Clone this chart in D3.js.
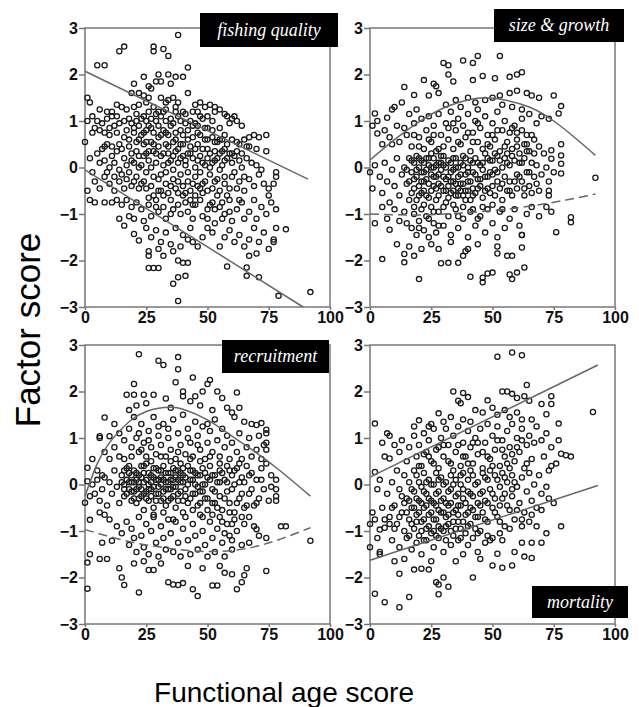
<!DOCTYPE html>
<html>
<head>
<meta charset="utf-8">
<script src="https://cdn.jsdelivr.net/npm/d3@7"></script>
<style>
  body { margin: 0; background: #fff; }
  .tick text { font-family: "Liberation Sans", Arial, sans-serif; font-weight: bold; font-size: 16px; fill: #111; }
</style>
</head>
<body>
<svg id="chart" width="639" height="707"></svg>
<script>
// axis ticks
const xTicks = [0, 25, 50, 75, 100];
const yTicks = [-3, -2, -1, 0, 1, 2, 3];
const panelLabels = ['fishing quality', 'size & growth', 'recruitment', 'mortality'];

// points: [functional age score, factor score]
const fishingQuality = [
  [38,2.85],[16,2.6],[14,2.5],[28,2.6],[28,2.5],[32,2.55],[34,2.4],[5,2.2],[8,2.2],[42,2.15],[24,1.95],[30,2.0],[34,2.0],[37,1.95],[40,1.95],[29,1.85],[31,1.85],[35,1.8],[20,1.8],[26,1.75],[27,1.7],
  [1,1.5],[2,1.4],[19,1.6],[22,1.6],[24,1.55],[26,1.5],[31,1.5],[34,1.45],[36,1.5],[38,1.4],[42,1.6],[45,1.35],[47,1.4],[49,1.3],[51,1.35],[53,1.3],[53,1.2],[55,1.25],[57,1.15],[13,1.35],[15,1.3],[17,1.25],[20,1.3],[28,1.3],[33,1.25],[40,1.2],[44,1.2],[6,1.25],[9,1.2],[11,1.2],
  [58,1.1],[60,1.05],[61,1.1],[62,1.0],[59,0.95],[64,0.9],[52,1.0],[48,1.05],[45,0.95],[50,0.85],[55,0.85],[57,0.7],
  [1,1.0],[3,1.1],[5,1.0],[7,0.95],[9,1.05],[11,1.1],[13,1.1],[4,0.85],[6,0.8],[8,0.75],[3,0.75],[10,0.85],[12,0.9],[14,0.95],[16,1.0],[18,1.05],[19,0.95],[21,1.0],[22,0.9],[24,1.1],[25,1.0],[26,0.9],[27,1.05],[29,1.0],[30,0.9],[31,1.1],[33,1.0],[35,1.05],[36,0.95],[38,1.1],[39,1.0],[41,0.95],[43,1.0],[46,0.9],
  [17,0.8],[20,0.75],[23,0.7],[25,0.8],[28,0.75],[30,0.65],[32,0.8],[34,0.7],[37,0.75],[40,0.7],[42,0.8],[44,0.65],[47,0.7],[49,0.6],[52,0.65],[54,0.55],[56,0.6],[60,0.6],[63,0.5],[65,0.6],[67,0.65],[69,0.7],[71,0.65],[74,0.7],[67,0.45],[70,0.4],[74,0.35],[62,0.35],
  [18,0.6],[21,0.55],[24,0.5],[27,0.55],[33,0.5],[36,0.55],[39,0.5],[43,0.45],[46,0.5],[50,0.4],[53,0.35],[57,0.4],[59,0.3],
  [0,0.55],[2,0.2],[5,0.3],[7,0.4],[9,0.5],[11,0.45],[13,0.35],[15,0.4],[16,0.2],[19,0.3],[20,0.1],[22,0.25],[23,0.05],[25,0.3],[26,0.15],[28,0.35],[29,0.1],[31,0.25],[32,0.05],[34,0.3],[35,0.15],[37,0.35],[38,0.1],[40,0.25],[41,0.05],[42,0.3],[44,0.2],[45,0.0],[47,0.25],[48,0.1],[50,0.2],[51,0.0],[53,0.15],[55,0.3],[56,0.05],[58,0.2],[60,0.1],[61,0.25],[63,0.15],[64,0.0],[66,0.2],[68,0.1],[70,0.05],[72,-0.05],[6,0.1],[8,0.15],[10,0.0],[12,0.1],[14,-0.05],[18,-0.1],[3,-0.1],
  [1,-0.5],[4,-0.3],[6,-0.45],[8,-0.2],[10,-0.35],[12,-0.5],[14,-0.3],[16,-0.45],[17,-0.25],[19,-0.4],[21,-0.2],[22,-0.45],[24,-0.3],[25,-0.1],[27,-0.4],[28,-0.2],[30,-0.5],[31,-0.15],[33,-0.35],[34,-0.55],[36,-0.25],[37,-0.45],[39,-0.15],[40,-0.4],[42,-0.3],[43,-0.5],[45,-0.2],[46,-0.4],[48,-0.55],[49,-0.3],[51,-0.15],[52,-0.45],[54,-0.25],[55,-0.5],[57,-0.35],[58,-0.6],[60,-0.2],[62,-0.45],[63,-0.3],[65,-0.5],[67,-0.25],[69,-0.4],[71,-0.15],[73,-0.35],[75,-0.45],[78,-0.1],[78,-0.2],[77,-0.35],[75,-0.6],
  [2,-0.7],[4,-0.75],[8,-0.75],[11,-0.75],[13,-0.7],[15,-0.8],[17,-0.7],[19,-0.85],[20,-1.1],[21,-0.75],[23,-0.9],[24,-1.15],[26,-0.8],[27,-1.05],[29,-0.7],[30,-0.95],[32,-0.85],[33,-1.1],[35,-0.7],[36,-0.9],[38,-0.8],[39,-1.0],[41,-0.75],[42,-0.95],[44,-1.1],[45,-0.8],[47,-0.7],[48,-1.05],[50,-0.9],[52,-0.75],[53,-1.2],[55,-0.85],[57,-1.0],[59,-0.7],[60,-1.15],[62,-0.9],[64,-0.75],[65,-1.1],[67,-0.95],[69,-0.7],[70,-1.1],[72,-0.85],[74,-1.0],[76,-0.75],[78,-0.9],[14,-1.1],[16,-1.25],[18,-1.05],
  [20,-1.43],[22,-1.57],[25,-1.3],[27,-1.5],[29,-1.35],[31,-1.6],[33,-1.4],[35,-1.65],[37,-1.3],[40,-1.45],[42,-1.55],[43,-1.3],[46,-1.7],[48,-1.5],[50,-1.3],[52,-1.4],[55,-1.7],[57,-1.5],[59,-1.35],[61,-1.6],[63,-1.45],[65,-1.7],[67,-1.55],[69,-1.3],[71,-1.6],[73,-1.4],[75,-1.75],[77,-1.55],[78,-1.3],[82,-1.33],[77,-1.6],[70,-1.85],[67,-1.9],[26,-1.9],[26,-1.8],[30,-1.75],[32,-1.9],[36,-1.8],[39,-1.7],[44,-1.6],
  [26,-2.16],[28,-2.16],[30,-2.16],[38,-2.0],[40,-2.05],[42,-2.05],[36,-2.5],[38,-2.36],[41,-2.33],[58,-2.13],[66,-2.15],[66,-2.33],[71,-2.36],[79,-2.76],[92,-2.68],[38,-2.87]
];
const fishingQualityCore = [
  [18,0.45],[19,0.15],[20,0.85],[20,-0.3],[21,0.35],[21,1.15],[22,0.0],[22,0.6],[23,-0.35],[23,1.05],[24,0.25],[24,0.75],[25,-0.45],[25,0.55],[26,0.35],[26,1.2],[27,0.0],[27,0.85],[28,-0.6],[28,0.5],[29,0.3],[29,1.15],[30,-0.25],[30,0.45],[31,0.7],[31,-0.5],[32,0.3],[32,1.2],[33,-0.1],[33,0.75],[34,0.45],[34,0.1],[35,-0.4],[35,0.9],[36,0.25],[36,-0.05],[37,0.6],[37,1.2],[38,-0.3],[38,0.4],[39,0.8],[39,0.2],[40,-0.6],[40,0.5],[41,0.15],[41,1.15],[42,-0.1],[42,0.6],[43,0.3],[43,-0.7],[44,0.9],[44,-0.35],[45,0.4],[45,-0.6],[46,0.15],[46,0.75],[47,-0.1],[47,1.1],[48,0.4],[48,-0.35],[49,0.85],[49,0.05],[50,-0.5],[50,0.6],[51,0.3],[51,-0.8],[52,0.1],[52,0.8],[53,-0.3],[53,0.55],[54,0.2],[54,-0.6],[55,0.6],[55,-0.05],[56,0.35],[56,-0.75],[57,0.15],[57,-0.2],[58,0.5],[59,-0.45],[60,0.3],[61,-0.1],[62,0.55],[63,-0.7],[64,0.3],[65,-0.2],[66,0.45],[17,0.05],[16,0.65],[15,-0.15],[14,0.5],[13,0.75],[12,-0.2],[11,0.25],[10,0.7],[9,-0.1],[8,0.45],
  [26,-0.65],[29,-0.85],[32,-0.6],[35,-1.0],[38,-0.55],[41,-0.55],[44,-0.8],[47,-0.45],[50,-1.1],[53,-0.9],[56,-1.1],[59,-0.95],[33,1.4],[37,1.3],[25,1.4],[22,1.35],[30,1.2],[46,1.2],[50,1.1]
];

const sizeGrowth = [
  [53,2.4],[44,2.4],[38,2.3],[42,2.25],[30,2.25],[32,2.2],[32,2.0],[46,1.97],[51,1.92],[57,1.95],[60,2.0],[62,2.05],[42,1.88],[22,1.88],[34,1.85],[26,1.8],[27,1.75],[14,1.73],[18,1.56],[57,1.6],[60,1.65],[64,1.6],[66,1.55],[69,1.5],[75,1.55],[78,1.32],[77,1.16],[2,1.16],[1,0.9],[3,1.0],[3,0.73],[7,1.07],[9,1.25],[10,1.3],[13,1.4],[16,1.15],[19,1.25],[24,1.55],[28,1.6],[31,1.35],[35,1.45],[37,1.3],[40,1.5],[43,1.4],[44,1.25],[47,1.45],[50,1.5],[53,1.55],[54,1.35],[58,1.3],[62,1.25],[65,1.15],[70,1.1],[73,1.05],[68,0.95],
  [5,0.5],[6,0.8],[8,0.65],[9,0.5],[11,0.9],[12,0.55],[14,0.85],[15,0.7],[17,0.45],[18,0.95],[20,0.65],[21,1.05],[22,0.4],[23,0.8],[24,1.1],[25,0.55],[26,0.9],[27,0.35],[28,1.15],[29,0.7],[30,0.45],[31,0.95],[32,0.6],[33,1.2],[34,0.4],[35,0.8],[36,1.05],[37,0.5],[38,0.9],[39,0.65],[40,1.15],[41,0.35],[42,0.75],[43,1.0],[44,0.55],[45,0.85],[46,0.4],[47,1.1],[48,0.7],[49,0.45],[50,0.95],[51,0.6],[52,1.2],[53,0.35],[54,0.8],[55,1.0],[56,0.55],[57,0.75],[58,0.4],[59,0.9],[60,0.6],[61,0.3],[62,0.8],[63,0.5],[64,0.7],[65,0.35],[67,0.6],[69,0.45],[71,0.3],[74,0.37],[74,0.19],[78,0.5],[78,0.26],
  [0,-0.1],[1,-0.45],[2,0.05],[4,-0.2],[5,-0.55],[6,0.1],[7,-0.3],[8,-0.75],[9,-0.05],[10,-0.4],[11,0.2],[12,-0.6],[13,-0.15],[14,0.0],[15,-0.35],[16,0.2],[16,-0.7],[17,-0.1],[18,0.1],[18,-0.45],[19,-0.2],[19,0.25],[20,-0.6],[20,0.0],[21,-0.3],[21,0.15],[22,-0.1],[22,-0.5],[23,0.2],[23,-0.25],[24,-0.65],[24,0.05],[25,-0.15],[25,0.3],[26,-0.4],[26,0.0],[27,-0.2],[27,-0.7],[28,0.1],[28,-0.35],[29,-0.05],[29,0.25],[30,-0.5],[30,0.05],[31,-0.25],[31,-0.75],[32,0.15],[32,-0.4],[33,-0.1],[33,-0.55],[34,0.2],[34,-0.3],[35,-0.6],[35,0.0],[36,-0.2],[36,-0.45],[37,0.1],[37,-0.35],[38,-0.6],[38,0.25],[39,-0.15],[39,-0.5],[40,0.0],[40,-0.3],[41,-0.7],[41,0.15],[42,-0.45],[42,-0.1],[43,0.2],[43,-0.55],[44,-0.25],[45,0.05],[45,-0.4],[46,-0.65],[46,0.1],[47,-0.2],[48,-0.45],[48,0.2],[49,-0.1],[50,-0.4],[50,0.15],[51,-0.6],[51,-0.05],[52,0.25],[52,-0.3],[53,-0.45],[54,0.0],[54,-0.7],[55,-0.2],[55,0.2],[56,-0.5],[57,0.05],[57,-0.3],[58,-0.6],[59,0.15],[60,-0.15],[60,-0.45],[61,0.1],[62,-0.3],[63,-0.6],[63,0.2],[64,-0.1],[65,-0.4],[66,0.1],[67,-0.2],[68,0.05],[69,-0.5],[70,-0.15],[72,0.0],[73,-0.3],[75,-0.1],[78,0.08],[78,-0.13],[73,-0.5],[73,-0.6],[92,-0.22],
  [2,-1.2],[5,-0.85],[7,-1.1],[8,-1.34],[10,-0.9],[12,-1.15],[14,-0.95],[15,-1.2],[17,-1.3],[18,-1.0],[19,-1.45],[20,-1.15],[21,-0.9],[22,-1.35],[23,-1.05],[24,-1.5],[25,-0.85],[26,-1.2],[27,-1.4],[28,-0.95],[30,-1.25],[32,-1.05],[33,-1.45],[35,-0.9],[36,-1.3],[38,-1.1],[40,-1.5],[41,-0.95],[43,-1.25],[45,-1.05],[47,-1.4],[48,-0.9],[50,-1.2],[52,-1.5],[53,-0.95],[55,-1.3],[57,-1.1],[59,-0.9],[61,-1.25],[62,-1.45],[64,-1.0],[66,-0.85],[69,-1.05],[72,-0.85],[74,-0.95],[82,-1.07],[82,-1.18],[76,-1.39],
  [20,-2.4],[5,-1.97],[14,-2.04],[14,-1.86],[18,-1.9],[21,-1.75],[29,-2.06],[32,-2.05],[36,-2.05],[38,-1.9],[39,-1.8],[40,-1.75],[41,-2.35],[46,-2.37],[48,-2.28],[50,-2.26],[46,-2.47],[52,-1.85],[52,-1.7],[56,-1.9],[58,-1.9],[57,-2.3],[58,-2.4],[60,-2.26],[63,-2.15],[62,-1.72],[62,-1.45],[25,-1.65],[28,-1.75],[44,-1.65],[33,-1.6],[11,-1.65],[16,-1.7]
];
const sizeGrowthCore = [
  [15,-0.05],[16,-0.3],[17,0.15],[17,-0.55],[18,-0.25],[19,-0.05],[19,-0.7],[20,0.2],[20,-0.4],[21,-0.1],[21,-0.55],[22,0.1],[22,-0.3],[23,-0.05],[23,-0.6],[24,0.2],[24,-0.35],[25,0.0],[25,-0.5],[26,0.2],[26,-0.2],[27,0.05],[27,-0.45],[28,-0.15],[28,-0.6],[29,0.1],[29,-0.4],[30,-0.2],[30,0.25],[31,0.0],[31,-0.5],[32,-0.2],[32,-0.65],[33,0.1],[33,-0.3],[34,-0.05],[34,-0.5],[35,0.2],[35,-0.35],[36,0.0],[36,-0.6],[37,-0.15],[37,-0.5],[38,0.05],[38,-0.35],[39,0.2],[39,-0.7],[40,-0.1],[40,-0.5],[41,-0.3],[42,0.1],[42,-0.6],[43,-0.15],[44,0.1],[44,-0.45],[45,-0.25],[46,-0.05],[47,0.3],[47,-0.5],[48,-0.2],[49,0.15],[49,-0.55],[50,-0.15],[51,0.3],[52,-0.1],[53,0.15],[54,-0.35],[55,0.45],[56,0.1],[57,-0.5],[58,0.25],[59,-0.3],[60,0.45],[61,-0.2],[62,0.1],[63,-0.45],[64,0.35],[65,-0.1],[66,-0.55],[67,0.3],[68,-0.35],
  [20,0.45],[24,0.6],[28,0.4],[32,0.85],[36,0.55],[40,0.75],[44,0.95],[48,0.5],[52,0.8],[56,0.3],[60,0.75],[64,0.5],[18,-0.85],[22,-0.8],[26,-0.95],[30,-0.85],[34,-0.8],[38,-0.85],[42,-0.9],[46,-0.85],[50,-0.8],[54,-0.9],[20,-1.3],[24,-1.1],[28,-1.25],[36,-1.05],[44,-1.1],[18,0.7],[26,0.7],[34,0.95],[42,0.55],[50,0.7],[58,0.85],[66,0.7],[62,1.05]
];

const recruitment = [
  [22,2.8],[30,2.66],[32,2.57],[38,2.74],[38,2.48],[44,2.3],[37,2.2],[20,2.16],[17,1.93],[20,1.93],[24,1.93],[28,1.93],[40,2.0],[40,1.9],[51,2.25],[50,2.16],[54,2.0],[56,1.86],[62,1.98],[48,2.0],[45,1.9],[43,1.79],[8,1.44],[6,1.04],[6,1.0],[10,1.04],[33,1.85],[25,1.75],[21,1.7],[18,1.6],[35,1.65],[47,1.7],[52,1.6],[58,1.65],[60,1.55],[63,1.65],[61,1.45],[65,1.35],[68,1.3],[70,1.28],[72,1.32],[74,1.18],[74,1.1],[74,0.9],[74,0.75],
  [12,1.3],[14,1.1],[16,0.95],[18,1.2],[19,0.8],[20,1.45],[21,1.0],[22,0.7],[23,1.3],[24,0.9],[25,0.6],[26,1.15],[27,0.8],[28,1.45],[29,0.65],[30,1.05],[31,0.85],[32,1.3],[33,0.6],[34,1.0],[35,0.75],[36,1.4],[37,0.55],[38,1.1],[39,0.85],[40,1.5],[41,0.65],[42,1.2],[43,0.9],[44,0.6],[45,1.35],[46,1.05],[47,0.75],[48,1.25],[49,0.55],[50,0.9],[51,1.15],[52,0.7],[53,1.4],[54,0.95],[55,0.6],[56,1.2],[57,0.8],[58,1.05],[59,0.55],[60,0.9],[62,0.7],[63,1.1],[64,0.55],[66,0.8],[67,1.0],[68,0.6],[70,0.75],[71,1.05],[72,0.55],[73,0.85],[8,0.7],[10,0.55],[12,0.8],[14,0.6],[16,0.55],[3,0.55],[5,0.3],[7,0.2],
  [1,0.36],[1,0.07],[0,-0.39],[2,-0.25],[3,0.0],[4,-0.2],[5,0.1],[6,-0.35],[7,-0.1],[8,0.15],[9,-0.45],[10,0.05],[11,-0.2],[12,0.3],[13,-0.05],[14,-0.4],[15,0.2],[16,0.0],[16,-0.25],[17,0.35],[17,0.1],[18,-0.1],[18,0.25],[19,-0.35],[19,0.05],[20,0.3],[20,-0.15],[21,0.1],[21,-0.4],[22,0.2],[22,-0.05],[23,0.4],[23,-0.25],[24,0.05],[24,0.25],[25,-0.15],[25,0.45],[26,0.0],[26,-0.35],[27,0.2],[27,-0.1],[28,0.35],[28,-0.5],[29,0.1],[29,-0.2],[30,0.3],[30,-0.05],[31,-0.35],[31,0.15],[32,0.4],[32,-0.15],[33,0.05],[33,-0.45],[34,0.25],[34,-0.1],[35,0.1],[35,-0.3],[36,0.35],[36,-0.05],[37,0.15],[37,-0.5],[38,-0.2],[38,0.3],[39,0.05],[40,-0.35],[40,0.2],[41,-0.1],[42,0.4],[42,-0.4],[43,0.1],[44,-0.2],[44,0.3],[45,0.0],[46,-0.45],[46,0.2],[47,-0.15],[48,0.35],[48,0.0],[49,-0.3],[50,0.15],[50,-0.55],[51,0.4],[52,-0.1],[52,0.2],[53,-0.4],[54,0.05],[55,0.3],[55,-0.25],[56,-0.55],[57,0.1],[58,-0.15],[58,0.4],[59,-0.4],[60,0.2],[61,-0.6],[61,0.0],[62,0.35],[63,-0.3],[64,0.15],[65,-0.5],[65,0.05],[66,0.4],[67,-0.2],[68,0.25],[69,-0.45],[70,0.1],[71,-0.3],[72,0.35],[73,-0.1],[74,0.45],[75,-0.35],[76,0.2],[78,0.1],[78,-0.1],[78,-0.25],[78,-0.35],[76,-0.05],
  [2,-0.76],[6,-0.6],[8,-0.65],[10,-0.75],[7,-1.25],[11,-1.21],[13,-0.9],[15,-1.05],[17,-0.8],[18,-1.3],[19,-0.95],[20,-1.15],[21,-1.45],[22,-0.7],[23,-1.1],[24,-1.35],[25,-0.85],[26,-1.5],[27,-1.0],[28,-0.65],[29,-1.25],[30,-1.55],[31,-0.9],[32,-1.15],[33,-1.4],[34,-0.75],[35,-1.05],[36,-1.45],[37,-0.8],[38,-1.25],[39,-1.55],[40,-0.95],[41,-0.7],[42,-1.2],[43,-1.5],[44,-0.85],[45,-1.1],[46,-1.4],[47,-0.65],[48,-1.0],[49,-1.3],[50,-1.55],[51,-0.8],[52,-1.15],[53,-1.45],[54,-0.95],[55,-0.7],[56,-1.25],[57,-1.55],[58,-0.85],[59,-1.1],[60,-1.4],[61,-0.75],[62,-1.0],[64,-1.3],[65,-0.85],[67,-0.7],[69,-0.9],[70,-0.96],[67,-1.25],[71,-1.1],[74,-1.15],[80,-0.9],[82,-0.9],[92,-1.21],
  [2,-1.5],[6,-1.6],[9,-1.6],[1,-1.68],[14,-1.8],[15,-2.0],[16,-2.16],[22,-2.32],[26,-1.84],[28,-1.84],[34,-2.1],[36,-2.15],[38,-2.16],[40,-2.12],[44,-2.25],[46,-2.4],[52,-2.17],[54,-2.17],[62,-2.25],[64,-2.1],[65,-1.95],[66,-1.8],[74,-1.86],[60,-1.93],[1,-2.24],[20,-1.7],[24,-1.65],[31,-1.7],[42,-1.75],[48,-1.8],[55,-1.75],[57,-1.9]
];
const recruitmentCore = [
  [15,0.05],[16,0.3],[16,-0.1],[17,-0.2],[18,0.05],[18,0.4],[19,-0.15],[19,0.2],[20,0.05],[20,-0.3],[21,0.25],[21,-0.1],[22,0.05],[22,-0.3],[23,0.15],[23,-0.1],[24,-0.2],[24,0.4],[25,0.1],[25,-0.3],[26,0.25],[26,-0.1],[27,0.05],[27,-0.25],[28,0.15],[28,-0.05],[29,0.35],[29,-0.35],[30,0.1],[30,-0.2],[31,0.3],[31,0.0],[32,0.1],[32,-0.3],[33,0.25],[33,-0.1],[34,0.05],[34,-0.35],[35,0.25],[35,-0.1],[36,0.1],[36,-0.25],[37,0.3],[37,-0.05],[38,0.1],[38,-0.35],[39,0.25],[39,-0.15],[40,0.05],[40,0.35],[41,-0.25],[41,0.15],[42,0.0],[43,-0.3],[43,0.3],[44,0.1],[45,-0.2],[45,0.25],[46,-0.05],[47,0.2],[47,-0.4],[48,-0.15],[49,0.25],[49,0.0],[50,-0.3],[51,0.1],[52,-0.4],[53,0.2],[53,-0.15],[54,-0.5],[55,0.05],[56,0.25],[57,-0.3],[58,0.05],[59,-0.6],[60,-0.1],[61,0.3],[62,-0.4],[63,0.05],[64,-0.2],[66,-0.45],[67,0.2],[68,-0.1],[70,-0.4],[72,0.1],
  [19,0.6],[23,0.75],[27,0.5],[31,0.6],[35,0.5],[39,0.45],[43,0.55],[47,0.5],[51,0.6],[55,0.45],[59,0.3],[63,0.45],[24,-0.55],[28,-0.7],[32,-0.6],[36,-0.75],[40,-0.6],[44,-0.55],[48,-0.7],[52,-0.65],[56,-0.8],[60,-0.85],[64,-0.7],[57,-1.05],[60,-1.2],[22,1.1],[26,0.95],[30,1.25],[34,1.2],[38,0.7],[42,1.0],[46,0.85],[50,1.3]
];

const mortality = [
  [52,2.75],[58,2.84],[62,2.78],[91,1.56],[34,2.0],[38,1.97],[40,1.88],[36,1.8],[37,1.75],[48,1.81],[54,2.0],[56,2.0],[58,1.95],[60,1.86],[64,2.14],[63,1.9],[65,1.8],[70,1.73],[74,1.73],[72,1.51],[74,1.9],[28,1.53],[20,1.38],[2,1.31],[7,1.1],[8,1.05],[43,1.6],[46,1.55],[50,1.65],[52,1.5],[55,1.6],[57,1.45],[60,1.55],[62,1.4],[66,1.4],[25,1.3],[30,1.35],[33,1.45],[38,1.4],[41,1.35],[24,1.25],[18,1.25],
  [5,0.9],[6,0.6],[8,0.56],[10,0.85],[12,0.7],[13,0.95],[15,0.5],[16,0.8],[18,1.05],[19,0.6],[20,0.85],[21,0.4],[22,1.1],[23,0.7],[24,0.95],[25,0.5],[26,1.2],[27,0.75],[28,0.35],[29,1.0],[30,0.6],[31,1.2],[32,0.85],[33,0.45],[34,1.05],[35,0.7],[36,1.25],[37,0.4],[38,0.9],[39,0.6],[40,1.15],[41,0.8],[42,0.45],[43,1.0],[44,0.65],[45,1.2],[46,0.35],[47,0.9],[48,1.3],[49,0.55],[50,1.05],[51,0.75],[52,1.25],[53,0.4],[54,0.95],[55,0.6],[56,1.15],[57,0.8],[58,1.3],[59,0.5],[60,1.0],[61,0.7],[62,1.2],[63,0.35],[64,0.85],[65,1.05],[66,0.55],[67,0.9],[68,1.25],[70,0.95],[71,0.6],[72,1.1],[74,0.8],[74,0.4],[77,0.95],[77,1.31],[78,0.66],[80,0.63],[82,0.6],[76,0.45],[73,0.3],
  [2,0.27],[3,-0.1],[4,0.1],[1,-0.6],[0,-0.85],[2,-0.75],[5,-0.5],[6,-0.93],[4,-0.97],[7,-0.2],[8,-0.7],[9,0.05],[10,-0.45],[11,-0.85],[12,-0.1],[13,-0.6],[14,0.2],[14,-1.0],[15,-0.3],[16,-0.75],[16,0.05],[17,-0.5],[18,-0.95],[18,-0.15],[19,0.2],[19,-0.65],[20,-0.35],[20,-1.1],[21,-0.05],[21,-0.8],[22,0.25],[22,-0.5],[23,-0.2],[23,-0.95],[24,0.1],[24,-0.65],[25,-0.35],[25,-1.05],[26,0.0],[26,-0.75],[27,-0.45],[27,0.25],[28,-0.9],[28,-0.15],[29,-0.6],[29,0.15],[30,-0.3],[30,-1.0],[31,-0.7],[31,0.05],[32,-0.45],[32,-0.85],[33,-0.1],[33,0.2],[34,-0.6],[34,-1.1],[35,-0.25],[35,0.1],[36,-0.8],[36,-0.45],[37,0.0],[37,-0.95],[38,-0.3],[38,0.25],[39,-0.65],[39,-1.05],[40,-0.15],[40,0.1],[41,-0.5],[41,-0.85],[42,0.2],[42,-0.25],[43,-0.7],[44,-0.4],[44,0.05],[45,-1.0],[45,-0.2],[46,0.25],[46,-0.6],[47,-0.35],[48,-0.8],[48,0.1],[49,-0.1],[50,-0.5],[50,-1.15],[51,0.2],[51,-0.3],[52,-0.7],[53,-0.05],[53,-0.45],[54,0.25],[55,-0.2],[55,-0.9],[56,0.05],[57,-0.55],[58,-0.25],[58,0.2],[59,-0.75],[60,-0.05],[61,-0.4],[62,0.15],[63,-0.6],[64,-0.15],[65,0.25],[66,-0.35],[67,0.0],[68,-0.5],[69,0.2],[70,-0.2],[72,-0.05],[75,-0.4],[73,-0.3],
  [3,-1.15],[0,-1.35],[4,-1.45],[4,-1.5],[9,-1.2],[12,-1.35],[15,-1.15],[17,-1.4],[19,-1.25],[21,-1.5],[23,-1.2],[26,-1.35],[28,-1.15],[30,-1.45],[33,-1.3],[36,-1.2],[38,-1.5],[40,-1.3],[42,-1.15],[44,-1.45],[47,-1.25],[49,-1.2],[52,-1.49],[54,-1.2],[59,-1.45],[62,-1.25],[66,-1.25],[70,-1.25],[63,-1.55],[66,-1.58],[78,-0.9],[72,-1.05],[68,-0.9],[65,-0.8],[62,-0.9],
  [2,-2.35],[6,-2.53],[12,-2.64],[16,-2.42],[12,-1.92],[18,-1.83],[21,-1.81],[24,-1.83],[27,-2.1],[28,-2.15],[28,-2.36],[30,-2.0],[32,-2.2],[42,-2.0],[50,-1.74],[54,-1.79],[58,-1.74],[10,-1.65],[14,-1.6],[25,-1.65],[35,-1.65],[45,-1.6]
];
const mortalityCore = [
  [15,-0.6],[16,-0.35],[17,-0.85],[17,-0.1],[18,-0.5],[19,-0.8],[19,-0.3],[20,-0.6],[20,0.05],[21,-0.4],[21,-1.0],[22,-0.15],[22,-0.75],[23,-0.45],[23,0.05],[24,-0.9],[24,-0.3],[25,-0.6],[25,0.0],[26,-0.4],[26,-1.0],[27,-0.2],[27,-0.75],[28,-0.55],[28,0.1],[29,-0.35],[29,-0.95],[30,-0.6],[30,0.0],[31,-0.4],[31,-0.9],[32,-0.15],[32,-0.65],[33,-0.4],[33,-1.0],[34,-0.8],[34,0.0],[35,-0.55],[35,-0.95],[36,-0.2],[36,-0.65],[37,-0.45],[37,0.2],[38,-0.8],[38,-0.1],[39,-0.4],[40,-0.9],[40,-0.6],[41,-0.2],[41,0.3],[42,-0.55],[43,-0.95],[43,0.0],[44,-0.7],[45,-0.45],[46,-0.15],[47,-0.75],[47,0.15],[48,-0.4],[49,0.3],[50,-0.2],[51,-0.6],[52,0.1],[53,-0.8],[54,-0.3],[55,0.15],[56,-0.45],[57,0.35],[58,-0.1],[59,0.05],[60,-0.55],
  [20,0.4],[24,0.6],[28,0.8],[32,0.5],[36,0.85],[40,0.45],[44,0.9],[48,0.6],[52,0.95],[56,0.45],[60,0.8],[64,0.45],[62,0.95],[58,0.65],[54,0.75],[50,0.4],[46,0.7],[42,0.9],[38,0.6],[34,0.3],[30,0.85],[26,0.45],[22,0.65],[18,0.3],[14,-0.4],[12,-0.7],[10,-0.95],[8,-0.85],[6,-0.75],[9,-0.5],[13,-0.25],[11,0.3],[16,-1.1],[22,-1.2],[27,-1.1],[31,-1.2],[37,-1.15],[44,-1.05],[48,-1.1],[53,-1.05],[57,-0.95],[62,-0.75],[66,-0.65],[70,-0.55]
];

// fitted lines, read at a few x positions
const fishingUpper = [[0, 2.07], [91, -0.25]];
const fishingLower = [[0, -0.05], [89, -3.0]];
const sizeUpper = [[0,0.16],[10,0.6],[20,0.98],[30,1.28],[40,1.45],[47,1.5],[55,1.45],[65,1.3],[75,1.0],[85,0.58],[92,0.26]];
const sizeLower = [[0,-1.0],[20,-1.02],[40,-0.97],[60,-0.87],[80,-0.7],[92,-0.57]];
const recruitUpper = [[0,-0.25],[5,0.45],[10,0.9],[15,1.2],[20,1.43],[25,1.57],[30,1.64],[35,1.66],[40,1.62],[50,1.39],[60,1.04],[70,0.68],[80,0.28],[92,-0.25]];
const recruitLower = [[0,-0.97],[10,-1.12],[20,-1.25],[30,-1.34],[40,-1.41],[50,-1.44],[60,-1.42],[70,-1.33],[80,-1.17],[92,-0.93]];
const mortalityUpper = [[0, 0.16], [93, 2.57]];
const mortalityLower = [[0, -1.63], [93, -0.02]];

const panels = [
  { label: panelLabels[0], points: fishingQuality.concat(fishingQualityCore), fits: [{ d: fishingUpper }, { d: fishingLower }] },
  { label: panelLabels[1], points: sizeGrowth.concat(sizeGrowthCore), fits: [{ d: sizeUpper }, { d: sizeLower, dashed: true }] },
  { label: panelLabels[2], points: recruitment.concat(recruitmentCore), fits: [{ d: recruitUpper }, { d: recruitLower, dashed: true }] },
  { label: panelLabels[3], points: mortality.concat(mortalityCore), fits: [{ d: mortalityUpper }, { d: mortalityLower }] }
];

// panel placement on the page
const W = 245, H = 279;
const layout = [
  { left: 85,  top: 28,  box: { x: 200, y: 13,  w: 138, h: 34 } },
  { left: 370, top: 28,  box: { x: 494, y: 9,   w: 130, h: 33 } },
  { left: 85,  top: 345, box: { x: 222, y: 340, w: 107, h: 33 } },
  { left: 370, top: 345, box: { x: 532, y: 586, w: 96,  h: 32 } }
];

const svg = d3.select('#chart');

panels.forEach((p, i) => {
  const L = layout[i];
  const x = d3.scaleLinear().domain([0, 100]).range([L.left, L.left + W]);
  const y = d3.scaleLinear().domain([-3, 3]).range([L.top + H, L.top]);
  const g = svg.append('g');

  // frame
  g.append('rect')
    .attr('x', L.left).attr('y', L.top)
    .attr('width', W).attr('height', H)
    .attr('fill', 'none')
    .attr('stroke', '#777')
    .attr('stroke-width', 1.5);

  const xAxis = g.append('g')
    .attr('transform', `translate(0,${L.top + H})`)
    .call(d3.axisBottom(x).tickValues(xTicks).tickFormat(d3.format('d')).tickSize(3).tickPadding(2));
  const yAxis = g.append('g')
    .attr('transform', `translate(${L.left},0)`)
    .call(d3.axisLeft(y).tickValues(yTicks).tickFormat(d3.format('d')).tickSize(6).tickPadding(1));
  [xAxis, yAxis].forEach(a => {
    a.select('.domain').remove();
    a.selectAll('.tick line').attr('stroke', '#777').attr('stroke-width', 1.5);
  });

  // points
  g.append('g').selectAll('circle')
    .data(p.points)
    .join('circle')
    .attr('cx', d => x(d[0]))
    .attr('cy', d => y(d[1]))
    .attr('r', 2.6)
    .attr('fill', 'none')
    .attr('stroke', '#1a1a1a')
    .attr('stroke-width', 1.3);

  // fitted lines
  const line = d3.line().x(d => x(d[0])).y(d => y(d[1])).curve(d3.curveNatural);
  p.fits.forEach(f => {
    g.append('path')
      .attr('d', line(f.d))
      .attr('fill', 'none')
      .attr('stroke', '#666')
      .attr('stroke-width', 1.5)
      .attr('stroke-dasharray', f.dashed ? '9,5' : null);
  });

  // label box
  g.append('rect')
    .attr('x', L.box.x).attr('y', L.box.y)
    .attr('width', L.box.w).attr('height', L.box.h)
    .attr('fill', '#000');
  g.append('text')
    .attr('x', L.box.x + L.box.w / 2)
    .attr('y', L.box.y + L.box.h / 2)
    .attr('dy', '0.32em')
    .attr('text-anchor', 'middle')
    .attr('fill', '#fff')
    .style('font-family', '"Liberation Serif", "Times New Roman", serif')
    .style('font-style', 'italic')
    .style('font-size', '18px')
    .text(p.label);
});

// axis titles
svg.append('text')
  .attr('transform', 'translate(40,330) rotate(-90)')
  .attr('text-anchor', 'middle')
  .style('font-family', '"Liberation Sans", Arial, sans-serif')
  .style('font-size', '35px')
  .text('Factor score');

svg.append('text')
  .attr('x', 284)
  .attr('y', 702)
  .attr('text-anchor', 'middle')
  .style('font-family', '"Liberation Sans", Arial, sans-serif')
  .style('font-size', '28px')
  .text('Functional age score');
</script>
</body>
</html>
